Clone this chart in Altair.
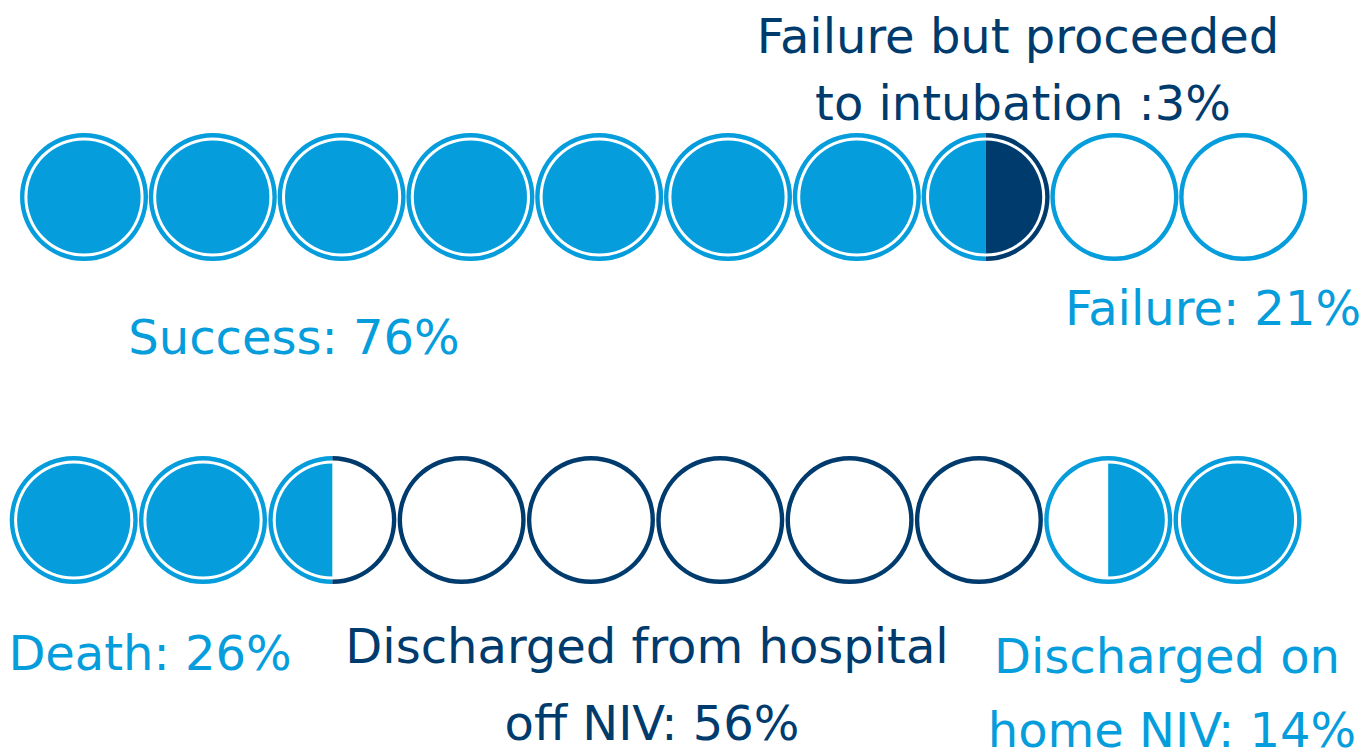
import math
import altair as alt
import pandas as pd

# ---------------- content ----------------
LIGHT = "#059DDB"
DARK = "#003B6E"

# category of each half-circle (left / right) in the two rows of 10 circles
row1_left = ["success"] * 8 + ["failure"] * 2
row1_right = ["success"] * 7 + ["intubation"] + ["failure"] * 2
row2_left = ["death"] * 3 + ["off_niv"] * 5 + ["home_niv"] * 2
row2_right = ["death"] * 2 + ["off_niv"] * 6 + ["home_niv"] * 2
# whether each half is filled
row1_left_filled = [True] * 8 + [False] * 2
row1_right_filled = [True] * 8 + [False] * 2
row2_left_filled = [True] * 3 + [False] * 5 + [False, True]
row2_right_filled = [True] * 2 + [False] * 6 + [True, True]

category_colour = {
    "success": LIGHT,
    "failure": LIGHT,
    "intubation": DARK,
    "death": LIGHT,
    "off_niv": DARK,
    "home_niv": LIGHT,
}

label_lines = [
    "Failure  but proceeded",
    "to intubation :3%",
    "Success: 76%",
    "Failure: 21%",
    "Death: 26%",
    "Discharged from hospital",
    "off NIV: 56%",
    "Discharged on",
    "home NIV: 14%",
]
label_colours = [DARK, DARK, LIGHT, LIGHT, LIGHT, DARK, DARK, LIGHT, LIGHT]

# ---------------- layout ----------------
label_x = [1010, 1015, 286, 1205, 142, 639, 644, 1159, 1164]
label_y = [45, 112, 346, 317, 662, 655, 732, 665, 739]
row_shift = [0.0, -0.08]
row_step = [1.0, 1.004]
TWO_PI = 2 * math.pi

ring_rows, fill_rows = [], []
for r, (lefts, rights, lf, rf) in enumerate([
    (row1_left, row1_right, row1_left_filled, row1_right_filled),
    (row2_left, row2_right, row2_left_filled, row2_right_filled),
]):
    for i in range(10):
        xpos = i * row_step[r] + row_shift[r]
        cl, cr = category_colour[lefts[i]], category_colour[rights[i]]
        # outer ring
        if cl == cr:
            ring_rows.append({"xpos": xpos, "row": r, "t0": 0.0, "t1": TWO_PI, "col": cl})
        else:
            ring_rows.append({"xpos": xpos, "row": r, "t0": math.pi, "t1": TWO_PI, "col": cl})
            ring_rows.append({"xpos": xpos, "row": r, "t0": 0.0, "t1": math.pi, "col": cr})
        # inner fill
        if lf[i] and rf[i] and cl == cr:
            fill_rows.append({"xpos": xpos, "row": r, "t0": 0.0, "t1": TWO_PI, "col": cl})
        else:
            if lf[i]:
                fill_rows.append({"xpos": xpos, "row": r, "t0": math.pi, "t1": TWO_PI, "col": cl})
            if rf[i]:
                fill_rows.append({"xpos": xpos, "row": r, "t0": 0.0, "t1": math.pi, "col": cr})

rings_df = pd.DataFrame(ring_rows)
fills_df = pd.DataFrame(fill_rows)

labels = pd.DataFrame({
    "text": label_lines,
    "col": label_colours,
    "px": label_x,
    "py": label_y,
})

xs = alt.Scale(domain=[0, 9], range=[76, 76 + 9 * 128.8])
ys = alt.Scale(domain=[0, 1], range=[189, 512])

base_enc = dict(
    x=alt.X("xpos:Q", scale=xs, axis=None),
    y=alt.Y("row:Q", scale=ys, axis=None),
    theta=alt.Theta("t0:Q", scale=None, stack=None),
    theta2="t1:Q",
    color=alt.Color("col:N", scale=None, legend=None),
)

rings = alt.Chart(rings_df).mark_arc(stroke=None).encode(
    radius=alt.value(64),
    radius2=alt.value(59.6),
    **base_enc,
)

inner = alt.Chart(fills_df).mark_arc(stroke=None).encode(
    radius=alt.value(56.6),
    **base_enc,
)

text = alt.Chart(labels).mark_text(
    font="DejaVu Sans", fontSize=48, align="center", baseline="alphabetic"
).encode(
    x=alt.X("px:Q", scale=None),
    y=alt.Y("py:Q", scale=None),
    text="text:N",
    color=alt.Color("col:N", scale=None, legend=None),
)

chart = alt.layer(rings, inner, text).properties(
    width=1353, height=748,
    autosize=alt.AutoSizeParams(type="none"),
    padding=0,
).configure_view(stroke=None)

chart.save("out.html", embed_options={"renderer": "svg", "actions": False})
